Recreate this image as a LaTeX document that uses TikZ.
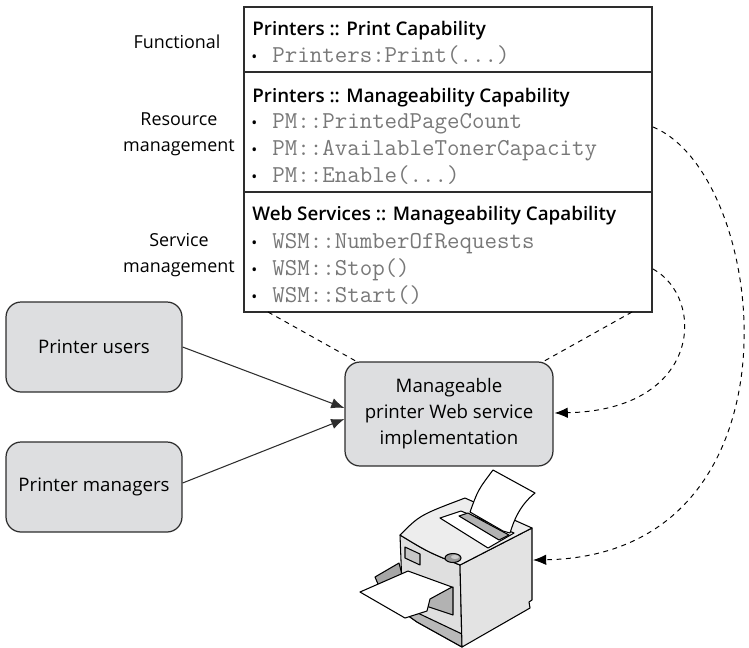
\documentclass[tikz,border=0pt]{standalone}
\usepackage{fontspec}
\setmainfont{Open Sans}[BoldFont={Open Sans Semibold}]
\usetikzlibrary{arrows.meta,calc}

\definecolor{boxgray}{RGB}{221,222,224}
\definecolor{edgegray}{RGB}{45,45,45}
\definecolor{codegray}{RGB}{120,120,120}

% one line of a capability list: bullet plus code text
\newcommand{\capitem}[3]{%
  \node[bul] (#1dot) at (251,#2) {\textbullet};
  \node[code] (#1) at (272,#2) {#3};}

\begin{document}
\begin{tikzpicture}[x=0.02cm,y=-0.02cm,
  rbox/.style={draw=edgegray,fill=boxgray,line width=0.7pt,rounded corners=0.3cm,
    align=center,inner sep=0pt,font=\fontsize{10.6}{14.8}\selectfont},
  label/.style={align=center,inner sep=0pt,font=\fontsize{10.2}{14.8}\selectfont},
  hdr/.style={anchor=base west,inner sep=0pt,font=\fontsize{10.7}{12}\selectfont\bfseries},
  bul/.style={anchor=base west,inner sep=0pt,font=\fontsize{9}{12}\selectfont},
  code/.style={anchor=base west,inner sep=0pt,text=codegray,
    font=\fontsize{13.8}{14}\selectfont\ttfamily},
  dashline/.style={dash pattern=on 2.8pt off 2.6pt,line width=0.55pt},
  arr/.style={-{Latex[length=7.5pt,width=6pt]}}]

\useasboundingbox (0,0) rectangle (749,647);

% capability table
\node[draw=edgegray,line width=0.7pt,minimum width=8.16cm,minimum height=6.1cm,inner sep=0pt] (caps) at (448,159.5) {};
\draw[edgegray,line width=0.7pt] (244,72) -- (652,72);
\draw[edgegray,line width=0.7pt] (244,192) -- (652,192);

\node[hdr] (h1) at (252,35) {Printers :: Print Capability};
\capitem{print}{62}{Printers:Print(...)}

\node[hdr] (h2) at (252,102) {Printers :: Manageability Capability};
\capitem{pages}{128}{PM::PrintedPageCount}
\capitem{toner}{155}{PM::AvailableTonerCapacity}
\capitem{enable}{182}{PM::Enable(...)}

\node[hdr] (h3) at (252,220) {Web Services :: Manageability Capability};
\capitem{requests}{248}{WSM::NumberOfRequests}
\capitem{stop}{275}{WSM::Stop()}
\capitem{start}{302}{WSM::Start()}

\node[label] (func) at (177,42) {Functional};
\node[label] (resmgmt) at (179,134) {Resource\\management};
\node[label] (svcmgmt) at (179,255) {Service\\management};

% actors and the service
\node[rbox,minimum width=3.52cm,minimum height=1.8cm] (users) at (94,347) {Printer users};
\node[rbox,minimum width=3.52cm,minimum height=1.8cm] (managers) at (94,487) {Printer managers};
\node[rbox,minimum width=4.16cm,minimum height=2.08cm] (mws) at (449,414)
  {Manageable\\printer Web service\\implementation};

\draw[edgegray,line width=0.6pt,arr] (users.east) -- ($(mws.west)+(0,-6)$);
\draw[edgegray,line width=0.6pt,arr] ($(managers.east)+(0,-4)$) -- ($(mws.west)+(0,5)$);

% links from the table
\coordinate (capsl) at (268,312);
\coordinate (capsr) at (632,312);
\coordinate (pmout) at (653,127);
\coordinate (wsmout) at (653,269);
\coordinate (printer) at (533,560);

\draw[dashline] (capsl) -- ($(mws.north west)+(12,0)$);
\draw[dashline] (capsr) -- ($(mws.north east)+(-10,0)$);
\draw[dashline,arr] (wsmout) .. controls (706,298) and (702,410) .. ($(mws.east)+(1,-1)$);
\draw[dashline,arr] (pmout) .. controls (770,175) and (812,555) .. (printer);

% the printer
\begin{scope}[line width=0.6pt,line join=round,draw=black]
\fill[gray!70,draw=black] (375,577) -- (399,563) -- (404,582) -- (381,591) -- cycle;
\fill[gray!25,draw=black] (400,535) .. controls (428,552) .. (460,565) -- (462,647) -- (417,622) -- (403,612) -- cycle;
\fill[gray!55,draw=black] (403,606) -- (462,634) -- (462,647) -- (417,622) -- (403,612) -- cycle;
\fill[gray!22,draw=black] (460,565) -- (532,528) -- (532,600) -- (529,602) -- (530,608) -- (462,647) -- cycle;
\fill[gray!14,draw=black] (400,535) .. controls (420,515) .. (465,498) -- (532,528) -- (460,565) .. controls (428,552) .. (400,535) -- cycle;
\fill[white,draw=black] (440,518) -- (461,511) -- (514,533) -- (488,548) -- cycle;
\fill[gray!60,draw=black] (459,516) -- (468,513) -- (509,535) -- (499,540) -- cycle;
\fill[white,draw=black] (470,512) .. controls (478,490) .. (493,470) -- (535,493)
  .. controls (520,505) and (514,520) .. (510,533) -- (503,531) -- cycle;
\fill[gray!80,draw=black] (453,558) ellipse (8 and 4.5);
\fill[gray!40] (455,557) ellipse (4 and 2);
\fill[gray!45,draw=black] (405,547) -- (420,554) -- (420,565) -- (405,558) -- cycle;
\fill[gray!60,draw=black] (426,594) -- (453,587) -- (453,615) -- (426,606) -- cycle;
\fill[white,draw=black] (360,592) -- (408,571) -- (452,587) -- (430,599) -- (427,611) -- (405,618) -- cycle;
\end{scope}

\end{tikzpicture}
\end{document}
